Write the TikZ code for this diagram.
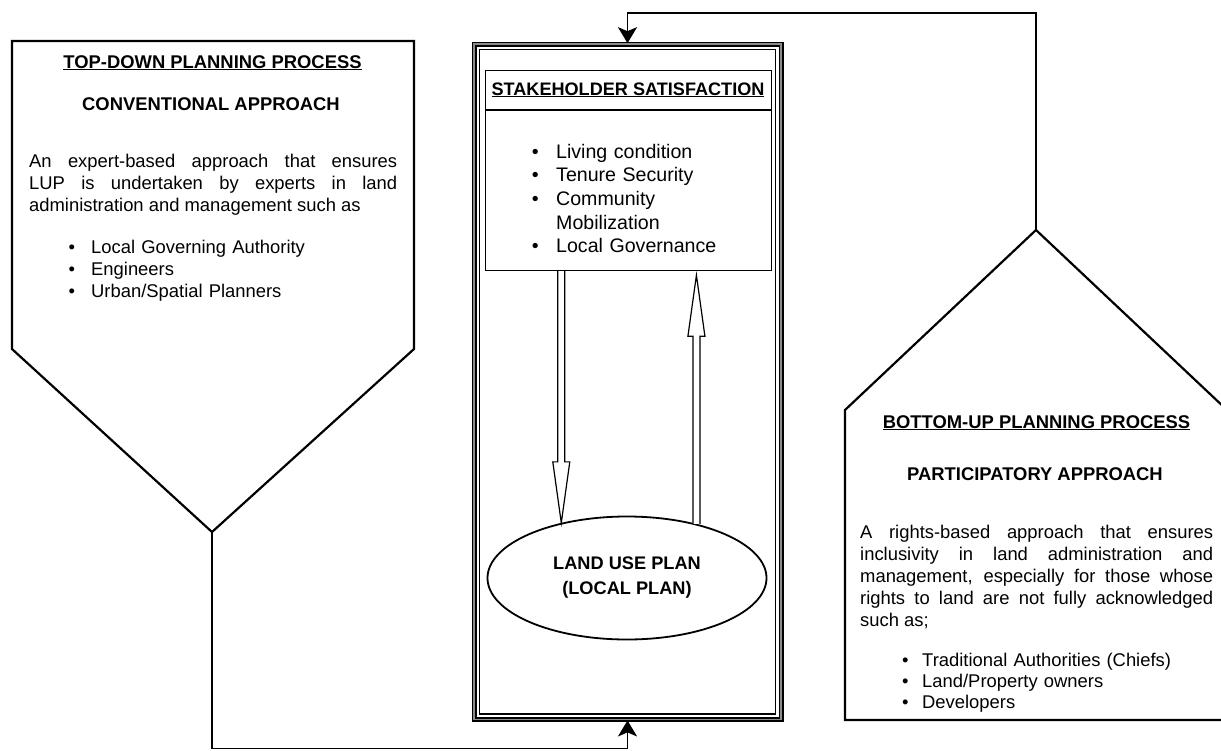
\documentclass[tikz,border=0pt]{standalone}
\usepackage{fontspec}
\setmainfont{Liberation Sans}
\usetikzlibrary{shapes.geometric, arrows.meta, calc, positioning}
\tolerance=10000
\hbadness=10000

\tikzstyle{pent}=[draw, line width=2.2pt, line join=miter]
\tikzstyle{link}=[line width=1.8pt, -{Stealth[length=16pt,width=19pt,inset=4pt]}]
\tikzstyle{head}=[inner sep=0pt, anchor=base, font=\bfseries\fontsize{18.4}{22}\selectfont]
\tikzstyle{body}=[inner sep=0pt, anchor=base west, align=justify, font=\fontsize{18.4}{22}\selectfont]
\tikzstyle{items}=[inner sep=0pt, anchor=base west, align=left, font=\fontsize{18.4}{22}\selectfont]
\tikzstyle{frame}=[draw=black, double=black!45, double distance=1.6pt, line width=1.7pt,
  minimum width=307pt, minimum height=675.5pt, inner sep=0pt]
\tikzstyle{hollow}=[line width=1.2pt, fill=white, line join=miter]

\newcommand{\bul}[1]{\makebox[#1][l]{\textbullet}}
% open arrow with a two-line shaft: #1 tail, #2 tip
\newcommand{\hollowarrow}[2]{%
  \coordinate (ha-base) at ($(#2)!61pt!(#1)$);
  \draw[hollow] ($(#1)!3.5pt!90:(#2)$) -- ($(ha-base)!3.5pt!-90:(#1)$)
    -- ($(ha-base)!8.5pt!-90:(#1)$) -- (#2) -- ($(ha-base)!8.5pt!90:(#1)$)
    -- ($(ha-base)!3.5pt!90:(#1)$) -- ($(#1)!3.5pt!-90:(#2)$);
}

\begin{document}
\begin{tikzpicture}[x=1pt, y=-1pt]
\useasboundingbox (0,0) rectangle (1221,750);

% top-down block
\draw[pent] (12,41) -- (414,41) -- (414,349) -- (212,532) coordinate (td-tip) -- (12,349) -- cycle;
\node[head] (td-title) at (212.5,68) {\underline{TOP-DOWN PLANNING PROCESS}};
\node[head] (td-sub) at (211,110) {CONVENTIONAL APPROACH};
\node[body, text width=368pt] (td-text) at (29,167) {An expert-based approach that ensures\linebreak
  LUP is undertaken by experts in land\linebreak administration and management such as};
\node[items, text width=300pt] (td-list) at (68.5,253) {\bul{22.5pt}Local Governing Authority\\
  \bul{22.5pt}Engineers\\ \bul{22.5pt}Urban/Spatial Planners};

% bottom-up block
\draw[pent] (845,720) -- (845,410) -- (1036,230) coordinate (bu-top) -- (1227,410) -- (1227,720) -- cycle;
\node[head] (bu-title) at (1036.5,428) {\underline{BOTTOM-UP PLANNING PROCESS}};
\node[head] (bu-sub) at (1035,480) {PARTICIPATORY APPROACH};
\node[body, text width=353pt] (bu-text) at (860,538) {A rights-based approach that ensures\linebreak
  inclusivity in land administration and\linebreak management, especially for those whose\linebreak
  rights to land are not fully acknowledged\linebreak such as;};
\node[items, text width=320pt, font=\fontsize{18.4}{21}\selectfont] (bu-list) at (902,666) {\bul{20pt}Traditional Authorities (Chiefs)\\
  \bul{20pt}Land/Property owners\\ \bul{20pt}Developers};

% centre
\node[frame] (plan) at (627.5,381.8) {};
\draw[line width=1.2pt] ([shift={(6.5,6.5)}]plan.north west) rectangle ([shift={(-6.5,-6.5)}]plan.south east);
\node[draw, line width=1.2pt, minimum width=286pt, minimum height=200pt, anchor=north west, inner sep=0pt] (sat) at (485,70) {};
\draw[line width=1.2pt] ([yshift=-40pt]sat.north west) -- ([yshift=-40pt]sat.north east);
\node[head, font=\bfseries\fontsize{18.1}{22}\selectfont] (sat-title) at (628,95) {\underline{STAKEHOLDER SATISFACTION}};
\node[items, text width=230pt, font=\fontsize{19.6}{23.7}\selectfont] (sat-list) at (531.6,158) {\bul{24.4pt}Living condition\\
  \bul{24.4pt}Tenure Security\\ \bul{24.4pt}Community\\ \hspace*{24.4pt}Mobilization\\ \bul{24.4pt}Local Governance};
\node[draw, ellipse, line width=1.8pt, minimum width=279pt, minimum height=123pt, align=center,
  font=\bfseries\fontsize{18.2}{25}\selectfont] (lup) at (627,578) {LAND USE PLAN\\(LOCAL PLAN)};

\coordinate (dn-tip) at (lup.140.6);
\coordinate (dn-tail) at (dn-tip |- sat.south);
\coordinate (up-tail) at (lup.38.3);
\coordinate (up-tip) at ($(up-tail |- sat.south)+(0,4)$);
\hollowarrow{dn-tail}{dn-tip}
\hollowarrow{up-tail}{up-tip}

% feedback links
\draw[link] (bu-top) -- ++(0,-217) -| (plan.north);
\draw[link] (td-tip) -- ++(0,216.5) -| (plan.south);
\end{tikzpicture}
\end{document}
